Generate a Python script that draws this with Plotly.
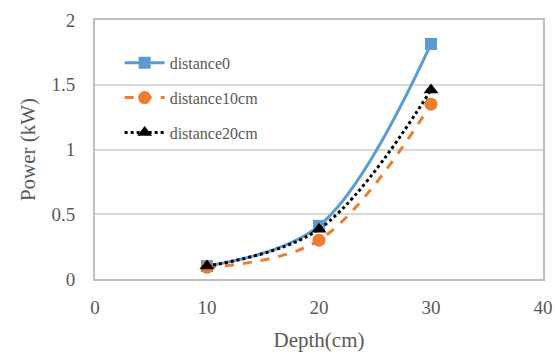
import plotly.graph_objects as go

depth = [10, 20, 30]
distance0 = [0.10, 0.41, 1.815]
distance10cm = [0.09, 0.30, 1.35]
distance20cm = [0.10, 0.385, 1.46]

font_family = "Liberation Serif"
fig = go.Figure()
fig.add_trace(go.Scatter(x=depth, y=distance0, name="distance0", mode="lines+markers",
                         legendgroup="a",
                         line=dict(color="#5B9BD5", width=3, shape="spline"),
                         marker=dict(symbol="square", size=12, color="#5B9BD5")))
fig.add_trace(go.Scatter(x=depth, y=distance10cm, name="distance10cm", mode="lines+markers",
                         legendgroup="b",
                         line=dict(color="#ED7D31", width=3, dash="dash", shape="spline"),
                         marker=dict(symbol="circle", size=13, color="#ED7D31")))
fig.add_trace(go.Scatter(x=depth, y=distance20cm, name="distance20cm", mode="lines+markers",
                         legendgroup="c",
                         line=dict(color="#000000", width=3, dash="dot", shape="spline"),
                         marker=dict(symbol="triangle-up", size=13, color="#000000")))

fig.update_layout(
    width=555, height=354,
    margin=dict(l=95, r=12, t=20, b=75),
    plot_bgcolor="white", paper_bgcolor="white",
    font=dict(family=font_family, size=20, color="#595959"),
    legend=dict(x=0.055, y=0.90, xanchor="left", yanchor="top",
                bgcolor="rgba(0,0,0,0)", font=dict(family=font_family, size=16, color="#595959"),
                tracegroupgap=11, itemwidth=40),
    showlegend=True,
)
fig.update_xaxes(range=[0, 40], dtick=10, tick0=0, showgrid=False, zeroline=False,
                 showline=True, linecolor="#BFBFBF", linewidth=2, mirror=True,
                 ticks="", ticklabelstandoff=10, automargin=False,
                 tickfont=dict(family=font_family, size=19, color="#595959"),
                 title=dict(text="Depth(cm)", font=dict(family=font_family, size=21, color="#595959"), standoff=16))
fig.update_yaxes(range=[0, 2], dtick=0.5, tick0=0, showgrid=True, gridcolor="#D9D9D9",
                 gridwidth=1.5, zeroline=False, showline=True, linecolor="#BFBFBF",
                 linewidth=2, mirror=True, ticks="", ticklabelstandoff=14, automargin=False,
                 tickfont=dict(family=font_family, size=19, color="#595959"),
                 title=dict(text="Power (kW)", font=dict(family=font_family, size=21, color="#595959"), standoff=10))

fig.write_html("out.html")
